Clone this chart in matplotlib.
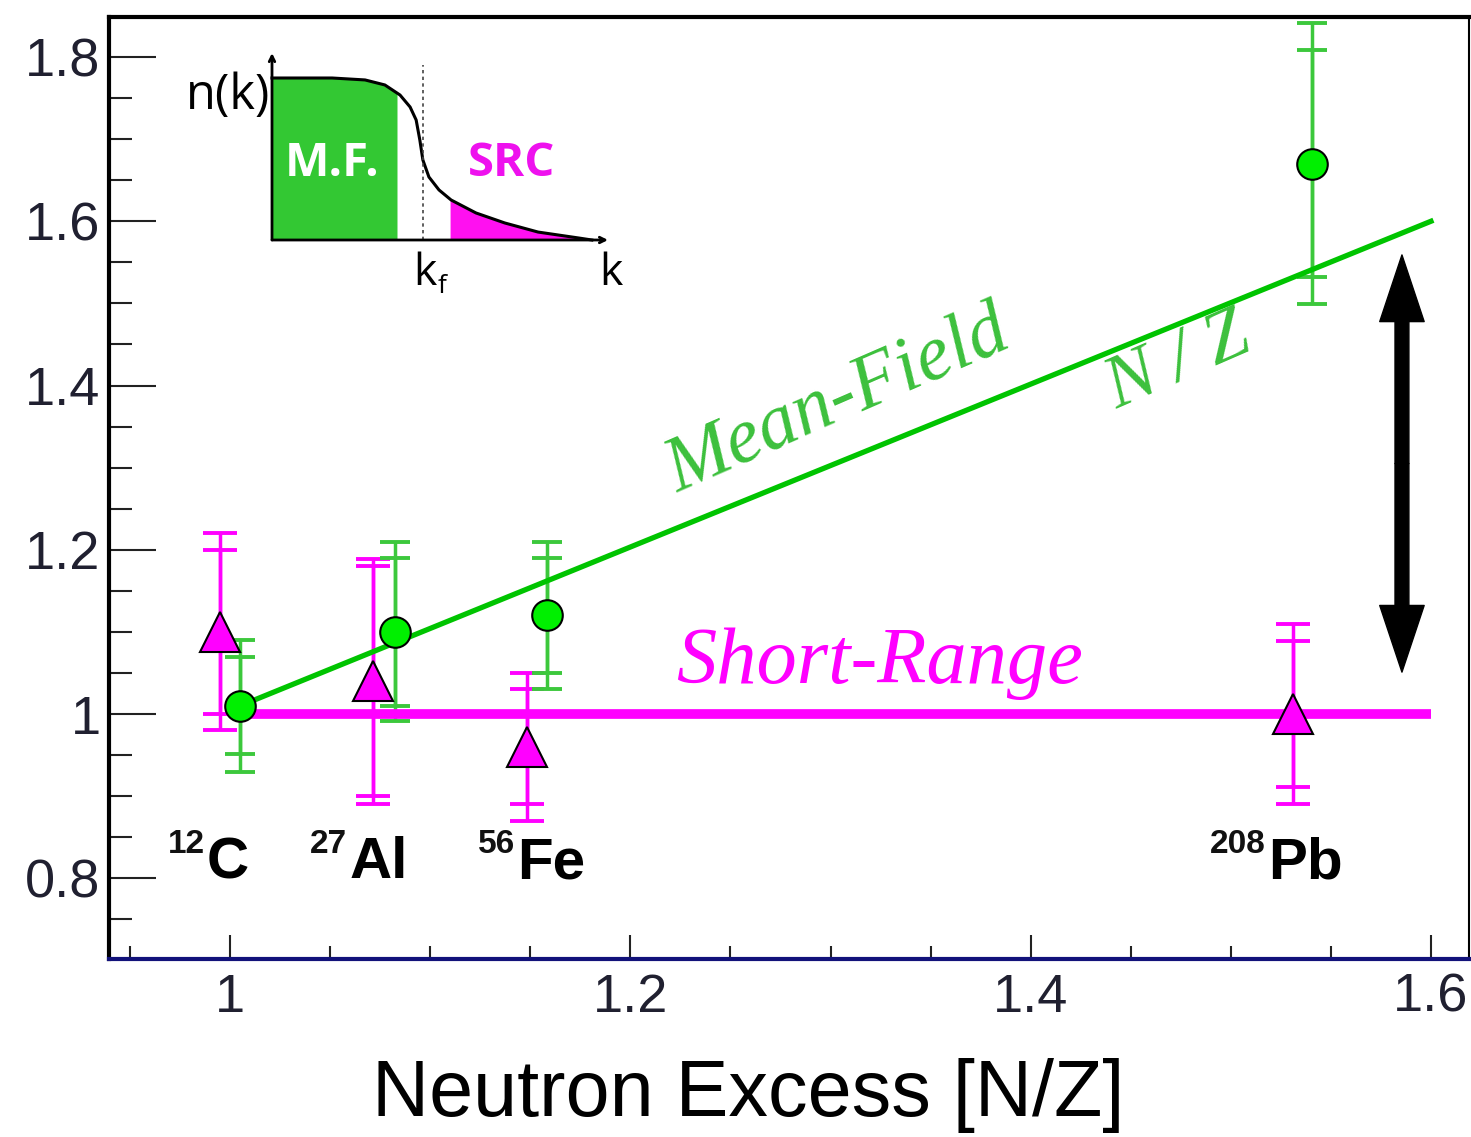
import numpy as np
import matplotlib
matplotlib.use("agg")
import matplotlib.pyplot as plt
from matplotlib.ticker import MultipleLocator, FormatStrFormatter

# measured ratios vs neutron excess
nuclei = ["C", "Al", "Fe", "Pb"]
mass_numbers = ["12", "27", "56", "208"]
src_x = [0.995, 1.0715, 1.1485, 1.531]
src_y = [1.10, 1.04, 0.96, 1.00]
src_err_in = [0.10, 0.14, 0.07, 0.089]
src_err_out = [0.12, 0.149, 0.09, 0.11]
mf_x = [1.005, 1.0825, 1.1585, 1.5405]
mf_y = [1.01, 1.10, 1.12, 1.67]
mf_err_in = [0.059, 0.09, 0.07, 0.138]
mf_err_out = [0.08, 0.109, 0.09, 0.171]

# model lines
mf_line_x = [1.005, 1.6]
mf_line_y = [1.01, 1.6]
src_line_x = [1.005, 1.6]
src_line_y = [1.0, 1.0]

# inset sketch of n(k)
k_pts = [0.0, 0.179, 0.277, 0.336, 0.381, 0.411, 0.429, 0.440, 0.449,
         0.467, 0.497, 0.533, 0.607, 0.693, 0.792, 0.914, 0.952]
n_pts = [1.0, 1.0, 0.988, 0.957, 0.895, 0.821, 0.741, 0.617, 0.494,
         0.389, 0.309, 0.247, 0.167, 0.105, 0.049, 0.012, 0.0]
k_mf_end = 0.372
k_src_start = 0.530
k_fermi = 0.449

green_line = '#00c400'
green_err = '#3cc83c'
magenta = '#ff00ff'
tick_col = '#202030'

W, H = 1471, 1137
fig = plt.figure(figsize=(W / 100, H / 100), dpi=100)
ax = fig.add_axes([109 / W, 1 - 959 / H, (1469 - 109) / W, (959 - 17) / H])
ax.set_xlim(0.9395, 1.619)
ax.set_ylim(0.7017, 1.8487)

# axes style
for s in ['left', 'top']:
    ax.spines[s].set_linewidth(3)
    ax.spines[s].set_color('black')
ax.spines['right'].set_linewidth(1.5)
ax.spines['bottom'].set_linewidth(3)
ax.spines['bottom'].set_color('#12127a')

ax.xaxis.set_major_locator(MultipleLocator(0.2))
ax.xaxis.set_minor_locator(MultipleLocator(0.05))
ax.yaxis.set_major_locator(MultipleLocator(0.2))
ax.yaxis.set_minor_locator(MultipleLocator(0.05))
ax.xaxis.set_major_formatter(FormatStrFormatter('%g'))
ax.yaxis.set_major_formatter(FormatStrFormatter('%g'))
ax.tick_params(axis='y', which='major', direction='in', length=34, width=1.5,
               color='#222222', pad=6, labelsize=39, labelcolor=tick_col)
ax.tick_params(axis='y', which='minor', direction='in', length=16.5, width=1.5,
               color='#222222')
ax.tick_params(axis='x', which='major', direction='in', length=17, width=1.5,
               color='#222222', pad=10, labelsize=39, labelcolor=tick_col)
ax.tick_params(axis='x', which='minor', direction='in', length=9.5, width=1.5,
               color='#222222')
for lab in ax.get_xticklabels() + ax.get_yticklabels():
    lab.set_fontfamily('Liberation Sans')

# model lines
ax.plot(src_line_x, src_line_y, color=magenta, lw=7, solid_capstyle='butt', zorder=3)
ax.plot(mf_line_x, mf_line_y, color=green_line, lw=3.8, zorder=4)

# error bars (two sets) and points
for err in (src_err_out, src_err_in):
    ax.errorbar(src_x, src_y, yerr=err, fmt='none', ecolor=magenta,
                elinewidth=2.5, capsize=12, capthick=2.8, zorder=2)
for err in (mf_err_out, mf_err_in):
    ax.errorbar(mf_x, mf_y, yerr=err, fmt='none', ecolor=green_err,
                elinewidth=2.5, capsize=11, capthick=2.8, zorder=2)
ax.plot(src_x, src_y, ls='none', marker='^', ms=29, mfc=magenta, mec='black',
        mew=1.5, zorder=5)
ax.plot(mf_x, mf_y, ls='none', marker='o', ms=22, mfc='#00f000', mec='black',
        mew=1.5, zorder=6)

# nuclide labels
lab_x = [0.9885, 1.0595, 1.1435, 1.5185]
for xl, sym, a in zip(lab_x, nuclei, mass_numbers):
    ax.text(xl, 0.800, sym, fontsize=42, fontweight='bold',
            family='Liberation Sans', ha='left', va='baseline', color='black')
    ax.text(xl - 0.001, 0.831, a, fontsize=24, fontweight='bold',
            family='Liberation Sans', ha='right', va='baseline', color='#111111')

# annotations
ax.text(1.3037, 1.380, 'Mean-Field', fontsize=56, style='italic',
        family='Liberation Serif', color='#3cc03c', rotation=23.5,
        rotation_mode='anchor', ha='center', va='center')
ax.text(1.4736, 1.4286, 'N / Z', fontsize=54, style='italic',
        family='Liberation Serif', color='#3cc03c', rotation=23.5,
        rotation_mode='anchor', ha='center', va='center')
ax.text(1.3247, 1.0377, 'Short-Range', fontsize=58, style='italic',
        family='Liberation Serif', color=magenta, ha='center', va='baseline')

# double arrow
arr = 'simple,head_length=48,head_width=32,tail_width=10'
for yend in (1.559, 1.051):
    ax.annotate('', xy=(1.5855, yend), xytext=(1.5855, 1.305),
                arrowprops=dict(arrowstyle=arr, color='black', shrinkA=0,
                                shrinkB=0, mutation_scale=1))

fig.text(748 / W, 1 - 1116 / H, 'Neutron Excess [N/Z]', fontsize=57,
         family='Liberation Sans', ha='center', va='baseline')

# inset: momentum distribution sketch
ins = fig.add_axes([272 / W, 1 - 240 / H, 336 / W, 162 / H])
ins.set_xlim(0, 1)
ins.set_ylim(0, 1)
ins.axis('off')
kk = np.array(k_pts)
nn = np.array(n_pts)
m1 = kk <= k_mf_end
ins.fill_between(np.append(kk[m1], k_mf_end),
                 np.append(nn[m1], np.interp(k_mf_end, kk, nn)),
                 color='#33c833', lw=0)
m2 = kk >= k_src_start
ins.fill_between(np.insert(kk[m2], 0, k_src_start),
                 np.insert(nn[m2], 0, np.interp(k_src_start, kk, nn)),
                 color='#ff10f0', lw=0)
ins.plot(kk, nn, color='black', lw=2.2, clip_on=False)
ins.plot([k_fermi, k_fermi], [0, 1.08], color='#444444', lw=1.2,
         ls=(0, (2, 2)), clip_on=False)
ins.annotate('', xy=(0, 1.154), xytext=(0, 0),
             arrowprops=dict(arrowstyle='->', lw=2, color='black',
                             shrinkA=0, shrinkB=0), annotation_clip=False)
ins.annotate('', xy=(1.0, 0), xytext=(0, 0),
             arrowprops=dict(arrowstyle='->', lw=2, color='black',
                             shrinkA=0, shrinkB=0), annotation_clip=False)
ins.text(-0.005, 0.89, 'n(k)', fontsize=35, family='Open Sans',
         ha='right', va='center', clip_on=False)
ins.text(0.18, 0.475, 'M.F.', fontsize=34, family='Open Sans',
         fontweight='bold', color='white', ha='center', va='center')
ins.text(0.714, 0.475, 'SRC', fontsize=34, family='Open Sans',
         fontweight='bold', color='#ee11ee', ha='center', va='center')
ins.text(0.49, -0.07, 'k', fontsize=32, family='Open Sans',
         ha='right', va='top', clip_on=False)
ins.text(0.492, -0.21, 'f', fontsize=19, family='Open Sans',
         ha='left', va='top', clip_on=False)
ins.text(0.975, -0.07, 'k', fontsize=32, family='Open Sans',
         ha='left', va='top', clip_on=False)

fig.savefig('out.png', dpi=100)
